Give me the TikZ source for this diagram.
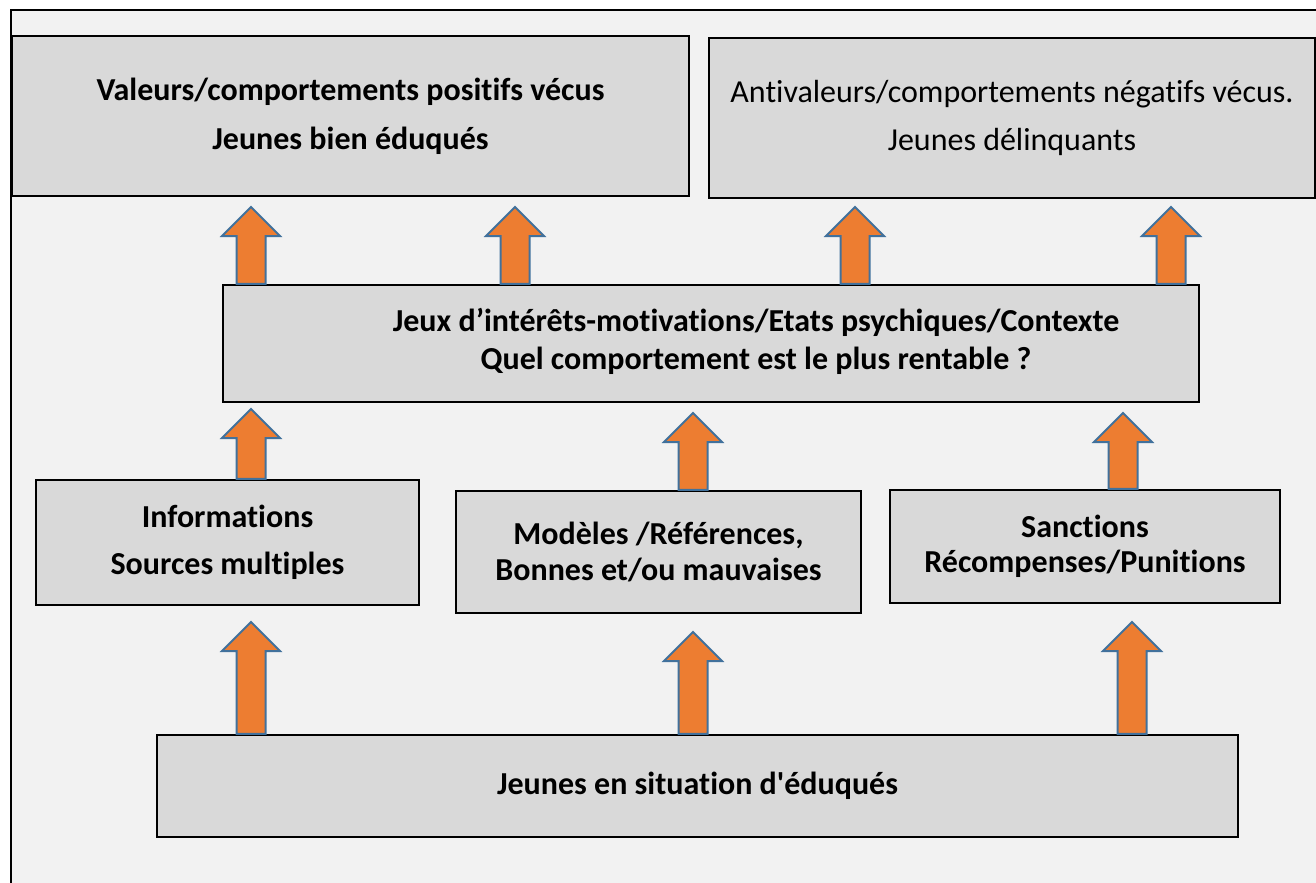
\documentclass[tikz,border=0pt]{standalone}
\usepackage{fontspec}
\setmainfont{Carlito}[Ligatures={NoCommon,NoContextual,NoRequired}]
\usepackage{xcolor}
\definecolor{cBack}{HTML}{F2F2F2}
\definecolor{cBox}{HTML}{D9D9D9}
\definecolor{cArrow}{HTML}{ED7D31}
\definecolor{cArrowLine}{HTML}{41719C}
\usepackage{tikz}
\usetikzlibrary{calc}
\tikzset{
  node-box/.style={draw=black,line width=1.6pt,fill=cBox,inner sep=0pt,
    align=center,font=\fontsize{24}{29}\selectfont\bfseries},
  node-plain/.style={font=\fontsize{24}{29}\selectfont},
  node-text/.style={align=center,inner sep=0pt,
    font=\fontsize{24}{29}\selectfont\bfseries},
  arrow-up/.style={draw=cArrowLine,line width=1.5pt,fill=cArrow,line join=miter},
}
% flèche pleine verticale : #1 base, #2 pointe
\newcommand\blockup[2]{%
  \draw[arrow-up] ($(#1)+(-14.5,0)$) -- ($(#2)+(-14.5,29)$) -- ($(#2)+(-29,29)$)
    -- (#2) -- ($(#2)+(29,29)$) -- ($(#2)+(14.5,29)$) -- ($(#1)+(14.5,0)$) -- cycle;}

\begin{document}
\begin{tikzpicture}[x=0.75pt,y=-0.75pt]
  \useasboundingbox (0,0) rectangle (1316,882);
  \fill[white] (0,0) rectangle (1316,882);
  \draw[line width=1.5pt,fill=cBack] (11,10) rectangle (1340,900);

  % résultats
  \node[node-box,minimum width=507.75pt,minimum height=120pt] (good) at (350.5,116)
    {Valeurs/comportements positifs vécus\\[7.5pt]Jeunes bien éduqués};
  \node[node-box,node-plain,minimum width=454.5pt,minimum height=120pt] (bad) at (1012,118)
    {Antivaleurs/comportements négatifs vécus.\\[7pt]Jeunes délinquants};

  % contexte
  \node[node-box,minimum width=732pt,minimum height=87.75pt] (ctx) at (711,343.5) {};
  \node[node-text] (ctx-text) at (756,341.5)
    {Jeux d’intérêts-motivations/Etats psychiques/Contexte\\Quel comportement est le plus rentable ?};

  % influences
  \node[node-box,minimum width=287.25pt,minimum height=93.75pt] (info) at (227.5,542.5)
    {Informations\\[6pt]Sources multiples};
  \node[node-box,minimum width=303.75pt,minimum height=91.5pt] (model) at (658.5,552)
    {Modèles /Références,\\[-2pt]Bonnes et/ou mauvaises};
  \node[node-box,minimum width=292.5pt,minimum height=84.75pt] (sanct) at (1085,546.5)
    {Sanctions\\[-3pt]Récompenses/Punitions};

  % base
  \node[node-box,minimum width=810.75pt,minimum height=76.5pt] (young) at (697.5,786)
    {Jeunes en situation d\textquotesingle éduqués};

  % flèches
  \foreach \ax/\ty/\from [count=\i] in {251/207/ctx,515/207/ctx,855/207/ctx,1171/207/ctx,
      251/409/info,693/413/model,1123/413/sanct,
      251/622/young,693/632/young,1132/622/young}{
    \coordinate (base-\i) at (\ax,0 |- \from.north);
    \coordinate (tip-\i) at (\ax,\ty);
    \blockup{base-\i}{tip-\i}
  }
\end{tikzpicture}
\end{document}
